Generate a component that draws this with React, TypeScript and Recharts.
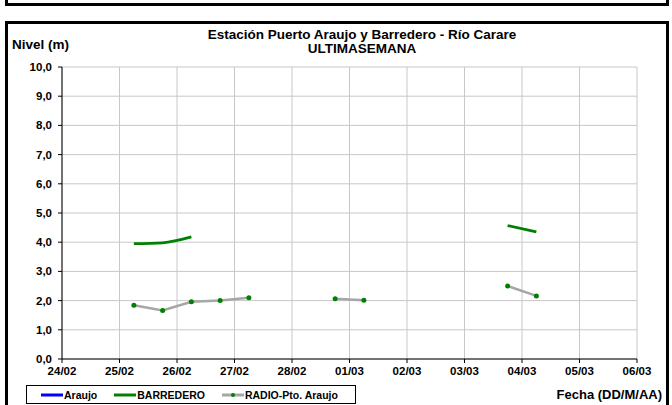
import React from 'react';
import { LineChart, Line, XAxis, YAxis, CartesianGrid } from 'recharts';

// days counted from 24/02 00:00
const times = [1.25, 1.75, 2.25, 2.75, 3.25, 4.0, 4.75, 5.25, 6.5, 7.75, 8.25];
const araujo: (number | null)[] = [null, null, null, null, null, null, null, null, null, null, null];
const barredero = [3.95, 3.98, 4.18, null, null, null, null, null, null, 4.57, 4.35];
const radio = [1.84, 1.66, 1.96, 2.0, 2.1, null, 2.06, 2.01, null, 2.5, 2.16];

const dateLabels = ['24/02', '25/02', '26/02', '27/02', '28/02', '01/03', '02/03', '03/03', '04/03', '05/03', '06/03'];
const xTicks = [0, 1, 2, 3, 4, 5, 6, 7, 8, 9, 10];
const yTicks = [0, 1, 2, 3, 4, 5, 6, 7, 8, 9, 10];

const data = times.map((t, i) => ({
  t,
  araujo: araujo[i],
  barredero: barredero[i],
  radio: radio[i],
}));

const font = '"Liberation Sans", Arial, sans-serif';
const tickStyle = { fontSize: 11.5, fontWeight: 700, fill: '#000', fontFamily: font };

function LegendItem({ color, label, dot }: { color: string; label: string; dot?: boolean }) {
  return (
    <span style={{ display: 'inline-flex', alignItems: 'center', marginRight: 17 }}>
      <svg width={22} height={8}>
        <line x1={0} y1={4} x2={22} y2={4} stroke={color} strokeWidth={3} />
        {dot && <circle cx={11} cy={4} r={2} fill="#008000" />}
      </svg>
      <span style={{ marginLeft: 1 }}>{label}</span>
    </span>
  );
}

export default function App() {
  return (
    <div style={{ position: 'absolute', left: 0, top: 0, width: 672, height: 405, background: '#fff', overflow: 'hidden', fontFamily: font }}>
      {/* top strip box */}
      <div style={{ position: 'absolute', left: 5, top: -20, width: 658, height: 20, border: '3px solid #000' }} />
      {/* main frame */}
      <div style={{ position: 'absolute', left: 5, top: 21, width: 658, height: 400, border: '3px solid #000' }} />

      <LineChart
        width={672}
        height={405}
        data={data}
        margin={{ top: 67, right: 35, bottom: 26, left: 0 }}
        style={{ position: 'absolute', left: 0, top: 0 }}
      >
        <CartesianGrid stroke="#c8c8c8" strokeWidth={1} />
        <XAxis
          dataKey="t"
          type="number"
          domain={[0, 10]}
          ticks={xTicks}
          tickFormatter={(v: number) => dateLabels[v]}
          interval={0}
          height={20}
          stroke="#000"
          tickSize={4}
          tickMargin={4}
          tick={tickStyle}
        />
        <YAxis
          type="number"
          domain={[0, 10]}
          ticks={yTicks}
          tickFormatter={(v: number) => v.toFixed(1).replace('.', ',')}
          width={62}
          stroke="#000"
          tickSize={4}
          tickMargin={6}
          tick={tickStyle}
        />
        <Line dataKey="araujo" stroke="#0000ff" strokeWidth={2.5} dot={false} isAnimationActive={false} />
        <Line type="monotone" dataKey="barredero" stroke="#008000" strokeWidth={2.8} dot={false} isAnimationActive={false} />
        <Line
          dataKey="radio"
          stroke="#a6a6a6"
          strokeWidth={2.5}
          dot={{ r: 2.5, fill: '#008000', stroke: '#008000', strokeWidth: 0 }}
          isAnimationActive={false}
        />
      </LineChart>

      <div style={{ position: 'absolute', left: 12, top: 37, fontSize: 13.5, fontWeight: 700 }}>Nivel (m)</div>
      <div style={{ position: 'absolute', left: 162, width: 400, top: 28, textAlign: 'center', fontSize: 13.5, fontWeight: 700, lineHeight: '14px' }}>
        Estación Puerto Araujo y Barredero - Río Carare
        <br />
        ULTIMASEMANA
      </div>
      <div style={{ position: 'absolute', right: 10, top: 387, fontSize: 13, fontWeight: 700 }}>Fecha (DD/M/AA)</div>

      <div
        style={{
          position: 'absolute',
          left: 26,
          top: 385,
          width: 330,
          height: 19,
          border: '1px solid #000',
          boxSizing: 'border-box',
          display: 'flex',
          alignItems: 'center',
          paddingLeft: 14,
          fontSize: 10.5,
          fontWeight: 700,
        }}
      >
        <LegendItem color="#0000ff" label="Araujo" />
        <LegendItem color="#008000" label="BARREDERO" />
        <LegendItem color="#a6a6a6" label="RADIO-Pto. Araujo" dot />
      </div>
    </div>
  );
}
